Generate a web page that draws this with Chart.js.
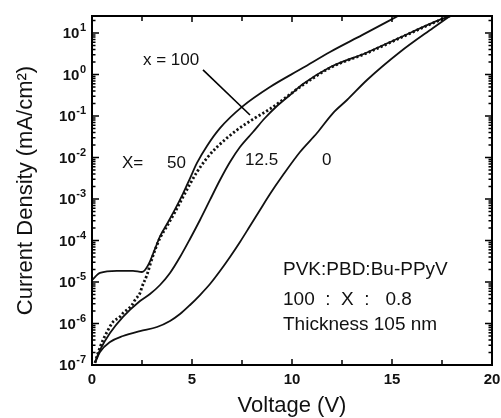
<!DOCTYPE html>
<html><head><meta charset="utf-8">
<script src="https://cdn.jsdelivr.net/npm/chart.js@4.4.1/dist/chart.umd.min.js"></script>
<style>html,body{margin:0;padding:0;background:#fff;}#wrap{width:501px;height:418px;}</style>
</head><body><div id="wrap"><canvas id="c" width="501" height="418"></canvas></div>
<script>
// ---- data ----
const seriesNames = ['x = 100', 'X = 50', 'X = 12.5', 'X = 0'];

const voltage100 = [0, 0.4, 1.25, 2.05, 2.5, 2.65, 2.9, 3.15, 3.4, 3.75, 4.15, 4.55, 4.9, 5.25, 5.75, 6.4, 7.5, 8.9, 10.55, 11.9, 13.5, 15.3];
const density100 = [1.12e-5, 1.66e-5, 1.86e-5, 1.86e-5, 1.74e-5, 1.95e-5, 3.16e-5, 6.3e-5, 1.26e-4, 2.5e-4, 5.6e-4, 1.35e-3, 3.16e-3, 7.4e-3, 1.9e-2, 5.1e-2, 0.166, 0.50, 1.45, 3.5, 8.9, 25.7];

const voltage50 = [0.15, 0.3, 0.55, 0.8, 1.05, 1.4, 1.55, 1.75, 2.0, 2.15, 2.4, 2.5, 2.75, 2.9, 3.15, 3.4, 3.75, 4.15, 4.55, 4.9, 5.25, 5.75, 6.25, 7.25, 8.15, 8.9, 10.55, 11.9, 13.75, 15.4, 17.05, 17.9];
const density50 = [1.12e-7, 1.95e-7, 4.0e-7, 6.9e-7, 1.1e-6, 1.45e-6, 1.78e-6, 2.14e-6, 2.8e-6, 3.7e-6, 5.4e-6, 7.6e-6, 1.48e-5, 2.57e-5, 5.9e-5, 1.15e-4, 2.23e-4, 4.86e-4, 1.12e-3, 2.3e-3, 4.48e-3, 9.7e-3, 1.79e-2, 4.6e-2, 8.95e-2, 0.148, 0.56, 1.45, 3.3, 7.6, 17.4, 25.7];

const voltage12 = [0.15, 0.4, 0.9, 1.55, 2.4, 2.9, 3.4, 3.9, 4.4, 4.9, 5.4, 5.9, 6.4, 6.9, 7.4, 8.05, 8.65, 9.25, 9.9, 10.55, 11.9, 13.75, 15.4, 17.05, 17.9];
const density12 = [1.17e-7, 2.3e-7, 5.9e-7, 1.45e-6, 3.48e-6, 5.14e-6, 8.47e-6, 1.65e-5, 4.0e-5, 1.09e-4, 3.12e-4, 9.5e-4, 2.87e-3, 7.8e-3, 1.79e-2, 4.11e-2, 8.95e-2, 0.174, 0.321, 0.59, 1.5, 3.4, 7.8, 17.8, 25.7];

const voltage0 = [0.15, 0.4, 0.9, 1.55, 2.4, 3.25, 3.9, 4.4, 4.9, 5.4, 5.9, 6.4, 6.9, 7.4, 7.9, 8.4, 8.9, 9.55, 10.4, 11.25, 12.05, 12.75, 13.75, 15.4, 17.05, 17.9];
const density0 = [1.12e-7, 2.06e-7, 3.58e-7, 5.0e-7, 6.59e-7, 8.24e-7, 1.15e-6, 1.69e-6, 2.79e-6, 4.86e-6, 8.95e-6, 1.84e-5, 4.0e-5, 9.2e-5, 2.23e-4, 5.43e-4, 1.32e-3, 3.78e-3, 1.36e-2, 3.89e-2, 0.118, 0.243, 0.736, 3.48, 13.2, 25.7];

const xTickValues = [0, 5, 10, 15, 20];
const xTickLabels = ['0', '5', '10', '15', '20'];
const xMinorTickValues = [2.5, 7.5, 12.5, 17.5];
const yTickValues = [1e-7, 1e-6, 1e-5, 1e-4, 1e-3, 1e-2, 1e-1, 1, 10];
const yTickBase = '10';
const yTickExponents = ['-7', '-6', '-5', '-4', '-3', '-2', '-1', '0', '1'];
const yMinorFactors = [2, 3, 4, 5, 6, 7, 8, 9];

// ---- chart ----
const FONT = "'Liberation Sans', Arial, Helvetica, sans-serif";
const pts = (xs, ys) => xs.map((v, i) => ({x: v, y: ys[i]}));

const notes = [
  {text: 'x = 100', x: 2.55, y: Math.pow(10, 0.35), size: 17},
  {text: 'X=', x: 1.5, y: Math.pow(10, -2.13), size: 17},
  {text: '50', x: 3.75, y: Math.pow(10, -2.13), size: 17},
  {text: '12.5', x: 7.65, y: Math.pow(10, -2.06), size: 17},
  {text: '0', x: 11.5, y: Math.pow(10, -2.06), size: 17},
  {text: 'PVK:PBD:Bu-PPyV', x: 9.55, y: Math.pow(10, -4.71), size: 19},
  {text: '100  :  X  :   0.8', x: 9.55, y: Math.pow(10, -5.43), size: 19},
  {text: 'Thickness 105 nm', x: 9.55, y: Math.pow(10, -6.04), size: 19}
];
const pointer = {x1: 5.55, y1: Math.pow(10, 0.11), x2: 7.9, y2: Math.pow(10, -0.976)};

const framePlugin = {
  id: 'frame',
  afterDatasetsDraw(chart) {
    const {ctx, chartArea: a, scales: {x, y}} = chart;
    ctx.save();
    ctx.strokeStyle = '#000';
    ctx.lineWidth = 1.5;
    ctx.beginPath();
    const xt = (v, len) => {
      const p = x.getPixelForValue(v);
      ctx.moveTo(p, a.bottom); ctx.lineTo(p, a.bottom - len);
      ctx.moveTo(p, a.top); ctx.lineTo(p, a.top + len);
    };
    xTickValues.forEach(v => xt(v, 6));
    xMinorTickValues.forEach(v => xt(v, 5));
    const yt = (v, len) => {
      const p = y.getPixelForValue(v);
      if (p < a.top - 0.5 || p > a.bottom + 0.5) return;
      ctx.moveTo(a.left, p); ctx.lineTo(a.left + len, p);
      ctx.moveTo(a.right, p); ctx.lineTo(a.right - len, p);
    };
    yTickValues.forEach(v => {
      yt(v, 7);
      yMinorFactors.forEach(f => yt(v * f, 3.5));
    });
    ctx.stroke();
    ctx.lineWidth = 2;
    ctx.strokeRect(a.left, a.top, a.right - a.left, a.bottom - a.top);

    // y tick labels: base with raised exponent
    ctx.fillStyle = '#111';
    ctx.textBaseline = 'middle';
    ctx.textAlign = 'left';
    const baseFont = 'bold 15px ' + FONT, expFont = 'bold 11px ' + FONT;
    yTickValues.forEach((v, i) => {
      const p = y.getPixelForValue(v);
      ctx.font = baseFont; const wb = ctx.measureText(yTickBase).width;
      ctx.font = expFont; const we = ctx.measureText(yTickExponents[i]).width;
      const right = a.left - 6;
      ctx.font = baseFont; ctx.fillText(yTickBase, right - we - wb - 0.5, p + 1);
      ctx.font = expFont; ctx.fillText(yTickExponents[i], right - we, p - 5);
    });

    // annotations
    ctx.textAlign = 'left';
    ctx.textBaseline = 'middle';
    notes.forEach(n => {
      ctx.font = n.size + 'px ' + FONT;
      ctx.fillText(n.text, x.getPixelForValue(n.x), y.getPixelForValue(n.y));
    });
    ctx.lineWidth = 1.6;
    ctx.beginPath();
    ctx.moveTo(x.getPixelForValue(pointer.x1), y.getPixelForValue(pointer.y1));
    ctx.lineTo(x.getPixelForValue(pointer.x2), y.getPixelForValue(pointer.y2));
    ctx.stroke();
    ctx.restore();
  }
};

const solid = {borderColor: '#111', borderWidth: 1.8, pointRadius: 0, showLine: true, fill: false, cubicInterpolationMode: 'monotone'};

new Chart(document.getElementById('c'), {
  type: 'scatter',
  data: {
    datasets: [
      Object.assign({label: seriesNames[0], data: pts(voltage100, density100)}, solid),
      Object.assign({label: seriesNames[1], data: pts(voltage50, density50)}, solid, {borderWidth: 2.8, borderDash: [2.2, 2.2]}),
      Object.assign({label: seriesNames[2], data: pts(voltage12, density12)}, solid),
      Object.assign({label: seriesNames[3], data: pts(voltage0, density0)}, solid)
    ]
  },
  options: {
    responsive: false,
    animation: false,
    devicePixelRatio: 1,
    layout: {padding: {left: 0, right: 9, top: 16, bottom: 0}},
    plugins: {legend: {display: false}, tooltip: {enabled: false}},
    scales: {
      x: {
        type: 'linear', min: 0, max: 20,
        grid: {display: false, drawTicks: false},
        border: {display: false},
        afterBuildTicks(s) { s.ticks = xTickValues.map(v => ({value: v})); },
        ticks: {
          autoSkip: false, maxRotation: 0, padding: 6, color: '#111',
          font: {family: FONT, size: 15, weight: 'bold'},
          callback: (v, i) => xTickLabels[i]
        },
        title: {display: true, text: 'Voltage (V)', color: '#111', font: {family: FONT, size: 22, lineHeight: 1}, padding: {top: 0, bottom: 1}},
        afterFit(s) { s.height = 53; s.paddingLeft = 0; s.paddingRight = 0; }
      },
      y: {
        type: 'logarithmic', min: 1e-7, max: 25.7,
        grid: {display: false, drawTicks: false},
        border: {display: false},
        afterBuildTicks(s) { s.ticks = yTickValues.map(v => ({value: v, major: true})); },
        ticks: {display: false},
        title: {display: true, text: 'Current Density (mA/cm\u00B2)', color: '#111', font: {family: FONT, size: 22, lineHeight: 1}, padding: {top: 15, bottom: 0}},
        afterFit(s) { s.width = 92; s.paddingTop = 0; s.paddingBottom = 0; }
      }
    }
  },
  plugins: [framePlugin]
});
</script>
</body></html>
